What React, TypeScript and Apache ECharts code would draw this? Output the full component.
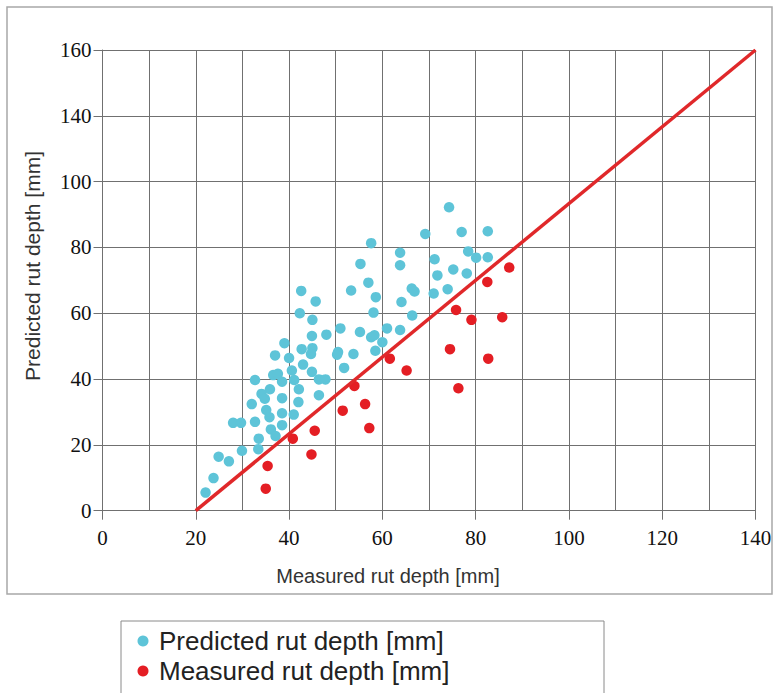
import { useEffect, useRef } from "react";
import * as echarts from "echarts";

const xTickLabels = ["0", "20", "40", "60", "80", "100", "120", "140"];
// the reference's y axis labels (120 is skipped in the original figure)
const yTickLabels = ["0", "20", "40", "60", "80", "100", "140", "160"];

const legendNames = ["Predicted rut depth [mm]", "Measured rut depth [mm]"];

const predictedPoints: [number, number][] = [
  [39.0, 50.9], [44.9, 53.1], [48.0, 53.5], [37.0, 47.2], [40.0, 46.4], [42.7, 49.1],
  [45.0, 49.4], [44.7, 47.6], [43.0, 44.4], [40.6, 42.6], [44.9, 42.2], [36.6, 41.2],
  [37.6, 41.6], [38.5, 39.2], [41.1, 39.7], [32.7, 39.7], [46.4, 39.9], [47.8, 39.9],
  [42.1, 36.9], [35.9, 36.9], [34.1, 35.5], [34.8, 34.0], [38.5, 34.2], [46.4, 35.1],
  [42.0, 33.0], [32.0, 32.4], [35.1, 30.6], [38.5, 29.6], [41.0, 29.2], [35.8, 28.4],
  [28.0, 26.7], [29.7, 26.7], [32.7, 27.0], [38.5, 26.0], [36.1, 24.7], [37.1, 22.7],
  [33.5, 21.9], [24.9, 16.4], [27.1, 15.0], [29.9, 18.2], [33.4, 18.7], [23.8, 9.9],
  [22.1, 5.5],
  [55.3, 75.0], [63.8, 74.6], [63.8, 78.4], [42.6, 66.8], [45.7, 63.6], [53.3, 66.9],
  [57.0, 69.3], [58.6, 64.9], [64.1, 63.4], [42.3, 60.0], [45.0, 58.0], [58.1, 60.2],
  [51.0, 55.4], [55.2, 54.3], [57.6, 52.7], [58.3, 53.3], [61.0, 55.4], [63.8, 54.9],
  [60.0, 51.2], [50.5, 48.2], [50.3, 47.4], [53.8, 47.6], [58.5, 48.6], [51.8, 43.4],
  [57.6, 81.3], [69.2, 84.1], [77.0, 84.7], [71.2, 76.4], [78.4, 78.8], [80.1, 76.9],
  [71.8, 71.5], [75.2, 73.3], [78.1, 72.1], [66.3, 67.5], [66.9, 66.6], [71.0, 66.0],
  [74.0, 67.3], [66.4, 59.3], [74.3, 92.2], [82.6, 84.9], [82.6, 77.0],
];

const measuredPoints: [number, number][] = [
  [45.5, 24.3], [40.8, 21.9], [44.8, 17.1], [35.4, 13.6], [35.0, 6.7], [51.5, 30.4],
  [54.0, 37.9], [56.3, 32.4], [57.2, 25.1], [61.6, 46.2], [65.2, 42.6], [74.5, 49.1],
  [75.8, 61.0], [79.1, 58.0], [76.3, 37.2], [82.5, 69.5], [82.7, 46.2], [85.7, 58.8],
  [87.2, 73.9],
];

const referenceLine: [number, number][] = [
  [20, 0],
  [140, 140],
];

const gridColor = "#707070";
const serif = '"Liberation Serif", "Times New Roman", serif';
const sans = '"Liberation Sans", Arial, sans-serif';

export default function App() {
  const ref = useRef<HTMLDivElement>(null);

  useEffect(() => {
    document.body.style.margin = "0";
    const chart = echarts.init(ref.current!, null, { renderer: "svg" });
    const axisCommon = {
      type: "value",
      min: 0,
      max: 140,
      interval: 20,
      axisLine: { show: true, onZero: false, lineStyle: { color: gridColor, width: 1 } },
      axisTick: { show: true, length: 9, lineStyle: { color: gridColor, width: 1 } },
      splitLine: { show: true, lineStyle: { color: gridColor, width: 1 } },
    };
    chart.setOption({
      animation: false,
      backgroundColor: "#ffffff",
      grid: { left: 102.5, top: 50, width: 653, height: 460.7 },
      xAxis: {
        ...axisCommon,
        minorTick: { show: false, splitNumber: 2 },
        minorSplitLine: { show: true, lineStyle: { color: gridColor, width: 1 } },
        axisLabel: {
          margin: 17,
          fontFamily: serif,
          fontSize: 21,
          color: "#111",
          formatter: (v: number) => xTickLabels[Math.round(v / 20)] ?? "",
        },
      },
      yAxis: {
        ...axisCommon,
        axisLabel: {
          margin: 11,
          fontFamily: serif,
          fontSize: 21,
          color: "#111",
          formatter: (v: number) => yTickLabels[Math.round(v / 20)] ?? "",
        },
      },
      legend: {
        orient: "vertical",
        left: 132.5,
        top: 623,
        height: 200,
        itemWidth: 22,
        itemHeight: 11,
        itemGap: 4,
        icon: "circle",
        selectedMode: false,
        data: legendNames,
        textStyle: { fontSize: 26, fontFamily: sans, color: "#222" },
      },
      graphic: [
        {
          type: "rect",
          shape: { x: 7, y: 7, width: 765, height: 587 },
          style: { fill: "none", stroke: "#a8a8a8", lineWidth: 1.5 },
          silent: true,
        },
        {
          type: "rect",
          shape: { x: 121, y: 621, width: 483, height: 90 },
          style: { fill: "none", stroke: "#8a8a8a", lineWidth: 1 },
          silent: true,
        },
        {
          type: "text",
          x: 388,
          y: 576,
          style: {
            text: "Measured rut depth [mm]",
            font: `20px ${sans}`,
            fill: "#333",
            textAlign: "center",
            textVerticalAlign: "middle",
            align: "center",
            verticalAlign: "middle",
          },
        },
        {
          type: "text",
          x: 32,
          y: 266,
          rotation: Math.PI / 2,
          style: {
            text: "Predicted rut depth [mm]",
            font: `21px ${sans}`,
            fill: "#333",
            textAlign: "center",
            textVerticalAlign: "middle",
            align: "center",
            verticalAlign: "middle",
          },
        },
      ],
      series: [
        {
          name: legendNames[0],
          type: "scatter",
          data: predictedPoints,
          symbolSize: 10.5,
          itemStyle: { color: "#5ec4d8", opacity: 1 },
          z: 2,
        },
        {
          name: legendNames[1],
          type: "scatter",
          data: measuredPoints,
          symbolSize: 10.5,
          itemStyle: { color: "#e41e24", opacity: 1 },
          z: 2,
        },
        {
          name: "1:1",
          type: "line",
          data: referenceLine,
          showSymbol: false,
          symbol: "none",
          silent: true,
          lineStyle: { color: "#e0282a", width: 3.5 },
          z: 3,
        },
      ],
    });
    return () => chart.dispose();
  }, []);

  return <div ref={ref} style={{ width: 776, height: 693, background: "#fff" }} />;
}
